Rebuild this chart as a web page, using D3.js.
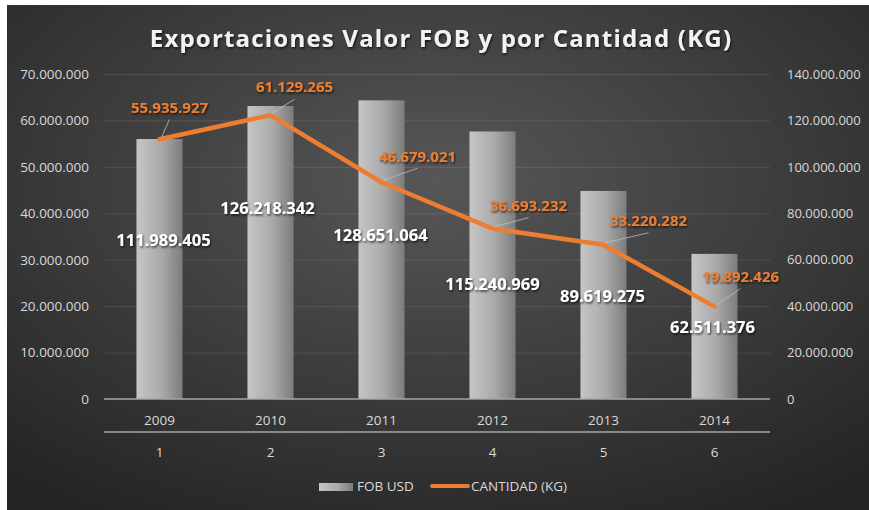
<!DOCTYPE html>
<html>
<head>
<meta charset="utf-8">
<script src="https://cdn.jsdelivr.net/npm/d3@7"></script>
<style>
  body { margin: 0; background: #fff; }
  text { font-family: "Open Sans", sans-serif; }
</style>
</head>
<body>
<svg class="chart-svg"></svg>
<script>
const years = ["2009", "2010", "2011", "2012", "2013", "2014"];
const indices = ["1", "2", "3", "4", "5", "6"];
const fobUsd = [111989405, 126218342, 128651064, 115240969, 89619275, 62511376];
const cantidadKg = [55935927, 61129265, 46679021, 36693232, 33220282, 19892426];
const leftTicks = [0, 10000000, 20000000, 30000000, 40000000, 50000000, 60000000, 70000000];
const rightTicks = [0, 20000000, 40000000, 60000000, 80000000, 100000000, 120000000, 140000000];

// hand placed label offsets, like the original
const barLabelOffsets = [[4, -29], [-3, -44], [-1, -14], [0, 19], [-1, 1], [-2, 1]];
const lineLabelOffsets = [[10, -32], [24, -28], [36, -26], [36, -23], [45, -24], [26, -30]];

function drawChart() {
  const width = 869;
  const height = 510;
  const left = 104;
  const right = 770;
  const top = 74;
  const bottom = 399;

  const fmt = d3.formatLocale({ decimal: ",", thousands: ".", grouping: [3], currency: ["", ""] }).format(",d");

  const svg = d3.select(".chart-svg").attr("width", width).attr("height", height);
  const defs = svg.append("defs");

  const bg = defs.append("radialGradient").attr("id", "bg")
    .attr("cx", "50%").attr("cy", "35%").attr("r", "75%");
  bg.append("stop").attr("offset", "0%").attr("stop-color", "#575757");
  bg.append("stop").attr("offset", "100%").attr("stop-color", "#252525");

  const barGrad = defs.append("linearGradient").attr("id", "barGrad")
    .attr("x1", "0%").attr("x2", "100%").attr("y1", "0%").attr("y2", "0%");
  barGrad.append("stop").attr("offset", "0%").attr("stop-color", "#c6c6c6");
  barGrad.append("stop").attr("offset", "55%").attr("stop-color", "#a9a9a9");
  barGrad.append("stop").attr("offset", "100%").attr("stop-color", "#7c7c7c");

  const shadow = defs.append("filter").attr("id", "shadow")
    .attr("x", "-10%").attr("y", "-30%").attr("width", "130%").attr("height", "180%");
  shadow.append("feDropShadow").attr("dx", 1).attr("dy", 1.5).attr("stdDeviation", 1)
    .attr("flood-color", "#000").attr("flood-opacity", 0.7);

  svg.append("rect").attr("x", 7).attr("y", 5)
    .attr("width", width - 7).attr("height", height - 5).attr("fill", "url(#bg)");

  const xScale = d3.scaleBand().domain(years).range([left, right])
    .paddingInner(0.585).paddingOuter(0.2925);
  const yLeft = d3.scaleLinear().domain([0, 70000000]).range([bottom, top]);
  const yRight = d3.scaleLinear().domain([0, 140000000]).range([bottom, top]);

  // grid
  svg.append("g")
    .attr("transform", "translate(" + left + ",0)")
    .call(d3.axisLeft(yLeft).tickValues(leftTicks.slice(1)).tickSize(-(right - left)).tickFormat(""))
    .call((g) => g.select(".domain").remove())
    .selectAll("line").attr("stroke", "#ffffff").attr("stroke-opacity", 0.1);

  // left axis labels
  svg.append("g")
    .attr("transform", "translate(" + (left - 12) + ",0)")
    .call(d3.axisLeft(yLeft).tickValues(leftTicks).tickSize(0).tickFormat(fmt))
    .call((g) => g.select(".domain").remove())
    .selectAll("text")
    .attr("fill", "#d9d9d9")
    .style("font-size", "13.5px")
    .style("font-family", "Open Sans");

  // right axis labels
  svg.append("g")
    .attr("transform", "translate(" + (right + 14) + ",0)")
    .call(d3.axisRight(yRight).tickValues(rightTicks).tickSize(0).tickFormat(fmt))
    .call((g) => g.select(".domain").remove())
    .selectAll("text")
    .attr("fill", "#d9d9d9")
    .style("font-size", "13px")
    .style("font-family", "Open Sans");

  // bars
  svg.append("g").selectAll("rect")
    .data(years)
    .enter()
    .append("rect")
    .attr("x", (d) => xScale(d))
    .attr("y", (d, i) => yRight(fobUsd[i]))
    .attr("width", xScale.bandwidth())
    .attr("height", (d, i) => bottom - yRight(fobUsd[i]))
    .attr("fill", "url(#barGrad)");

  // category axis, two levels
  svg.append("line").attr("x1", left).attr("x2", right).attr("y1", bottom).attr("y2", bottom)
    .attr("stroke", "#a6a6a6").attr("stroke-width", 1.5);
  svg.append("line").attr("x1", left).attr("x2", right).attr("y1", 432).attr("y2", 432)
    .attr("stroke", "#a6a6a6").attr("stroke-width", 1.5);

  svg.append("g").selectAll("text")
    .data(years)
    .enter()
    .append("text")
    .attr("x", (d) => xScale(d) + xScale.bandwidth() / 2)
    .attr("y", 425)
    .attr("text-anchor", "middle")
    .attr("fill", "#d9d9d9")
    .style("font-size", "13.5px")
    .text((d) => d);

  svg.append("g").selectAll("text")
    .data(indices)
    .enter()
    .append("text")
    .attr("x", (d, i) => xScale(years[i]) + xScale.bandwidth() / 2)
    .attr("y", 457)
    .attr("text-anchor", "middle")
    .attr("fill", "#d9d9d9")
    .style("font-size", "13.5px")
    .text((d) => d);

  // line
  const line = d3.line()
    .x((d, i) => xScale(years[i]) + xScale.bandwidth() / 2)
    .y((d) => yLeft(d));

  svg.append("path")
    .datum(cantidadKg)
    .attr("d", line)
    .attr("fill", "none")
    .attr("stroke", "#ed7d31")
    .attr("stroke-width", 4.5)
    .attr("stroke-linejoin", "round")
    .attr("stroke-linecap", "round");

  // leader lines for line labels
  svg.append("g").selectAll("line")
    .data(cantidadKg)
    .enter()
    .append("line")
    .attr("x1", (d, i) => xScale(years[i]) + xScale.bandwidth() / 2 + 2)
    .attr("y1", (d) => yLeft(d) - 2)
    .attr("x2", (d, i) => xScale(years[i]) + xScale.bandwidth() / 2 + lineLabelOffsets[i][0])
    .attr("y2", (d, i) => yLeft(d) + lineLabelOffsets[i][1] + 12)
    .attr("stroke", "#bfbfbf")
    .attr("stroke-width", 0.8);

  // bar labels
  svg.append("g").selectAll("text")
    .data(fobUsd)
    .enter()
    .append("text")
    .attr("x", (d, i) => xScale(years[i]) + xScale.bandwidth() / 2 + barLabelOffsets[i][0])
    .attr("y", (d, i) => (yRight(d) + bottom) / 2 + barLabelOffsets[i][1])
    .attr("dy", "0.35em")
    .attr("text-anchor", "middle")
    .attr("fill", "#ffffff")
    .attr("filter", "url(#shadow)")
    .style("font-size", "16.5px")
    .style("font-weight", "bold")
    .text((d) => fmt(d));

  // line labels
  svg.append("g").selectAll("text")
    .data(cantidadKg)
    .enter()
    .append("text")
    .attr("x", (d, i) => xScale(years[i]) + xScale.bandwidth() / 2 + lineLabelOffsets[i][0])
    .attr("y", (d, i) => yLeft(d) + lineLabelOffsets[i][1])
    .attr("dy", "0.35em")
    .attr("text-anchor", "middle")
    .attr("fill", "#ed7d31")
    .attr("filter", "url(#shadow)")
    .style("font-size", "15px")
    .style("font-weight", "bold")
    .text((d) => fmt(d));

  // title
  svg.append("text")
    .attr("x", 441)
    .attr("y", 47)
    .attr("text-anchor", "middle")
    .attr("fill", "#f2f2f2")
    .attr("filter", "url(#shadow)")
    .style("font-size", "24px")
    .style("font-weight", "bold")
    .style("letter-spacing", "1.2px")
    .text("Exportaciones Valor FOB y por Cantidad (KG)");

  // legend
  const legend = svg.append("g");
  legend.append("rect").attr("x", 319).attr("y", 483).attr("width", 34).attr("height", 8)
    .attr("fill", "url(#barGrad)");
  legend.append("text").attr("x", 357).attr("y", 491)
    .attr("fill", "#d9d9d9").style("font-size", "13.5px").text("FOB USD");
  legend.append("line").attr("x1", 432).attr("x2", 468).attr("y1", 486).attr("y2", 486)
    .attr("stroke", "#ed7d31").attr("stroke-width", 4).attr("stroke-linecap", "round");
  legend.append("text").attr("x", 471).attr("y", 491)
    .attr("fill", "#d9d9d9").style("font-size", "13.5px").text("CANTIDAD (KG)");
}

drawChart();
</script>
</body>
</html>
